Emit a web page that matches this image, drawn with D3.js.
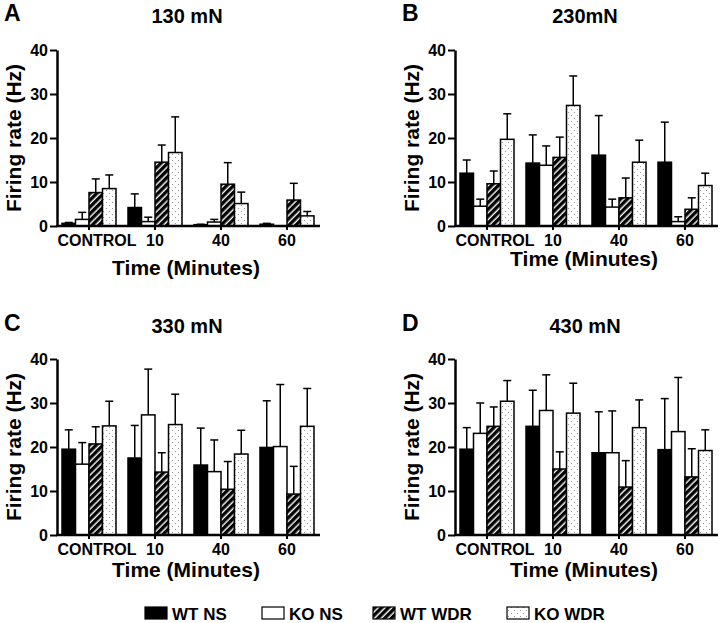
<!DOCTYPE html>
<html>
<head>
<meta charset="utf-8">
<script src="https://cdn.jsdelivr.net/npm/d3@7"></script>
<style>
  body { margin: 0; background: #fff; }
  svg { display: block; font-family: "Liberation Sans", Arial, sans-serif; font-weight: bold; }
</style>
</head>
<body>
<svg width="720" height="623"></svg>
<script>
// categories and series
var timepoints = ['CONTROL', '10', '40', '60'];
var groups = ['WT NS', 'KO NS', 'WT WDR', 'KO WDR'];
var yTicks = [0, 10, 20, 30, 40];

// mean firing rate (Hz), one row per group, one column per timepoint
var mean130 = [[0.6, 4.2, 0.3, 0.4], [1.5, 1.0, 0.9, 0], [7.6, 14.5, 9.5, 5.9], [8.5, 16.7, 5.1, 2.3]];
var sem130 = [[0.2, 3.1, 0.1, 0.2], [1.6, 1.0, 0.6, 0], [3.1, 3.9, 4.9, 3.8], [3.1, 8.1, 2.6, 1.0]];

var mean230 = [[12.0, 14.3, 16.1, 14.5], [4.5, 13.8, 4.3, 1.0], [9.6, 15.6, 6.4, 3.8], [19.7, 27.4, 14.5, 9.2]];
var sem230 = [[3.0, 6.4, 9.0, 9.1], [1.6, 4.4, 1.8, 1.1], [2.9, 4.6, 4.5, 2.6], [5.8, 6.7, 5.0, 2.8]];

var mean330 = [[19.5, 17.5, 15.9, 19.9], [16.1, 27.3, 14.4, 20.1], [20.7, 14.3, 10.4, 9.3], [24.8, 25.1, 18.4, 24.7]];
var sem330 = [[4.4, 7.4, 8.4, 10.6], [4.9, 10.4, 7.2, 14.1], [3.9, 4.4, 6.3, 6.3], [5.6, 6.9, 5.4, 8.6]];

var mean430 = [[19.5, 24.7, 18.7, 19.4], [23.1, 28.3, 18.7, 23.5], [24.7, 15.0, 10.9, 13.2], [30.4, 27.7, 24.4, 19.2]];
var sem430 = [[4.9, 8.2, 9.3, 11.6], [6.9, 8.1, 9.5, 12.3], [4.4, 3.9, 6.0, 6.4], [4.7, 6.8, 6.3, 4.7]];

var panels = [
  {letter: 'A', title: '130 mN', mean: mean130, sem: sem130, ax: 57, y0: 226, titleY: 23, xTitleY: 275},
  {letter: 'B', title: '230mN', mean: mean230, sem: sem230, ax: 455, y0: 226, titleY: 23, xTitleY: 266},
  {letter: 'C', title: '330 mN', mean: mean330, sem: sem330, ax: 57, y0: 535, titleY: 333, xTitleY: 577},
  {letter: 'D', title: '430 mN', mean: mean430, sem: sem430, ax: 455, y0: 535, titleY: 333, xTitleY: 577}
];

var fills = ['#000', '#fff', 'url(#hatch)', 'url(#dots)'];

var svg = d3.select('svg');
var defs = svg.append('defs');

var hatch = defs.append('pattern')
  .attr('id', 'hatch')
  .attr('patternUnits', 'userSpaceOnUse')
  .attr('width', 4.8)
  .attr('height', 4.8)
  .attr('patternTransform', 'rotate(45)');
hatch.append('rect').attr('width', 4.8).attr('height', 4.8).attr('fill', '#000');
hatch.append('line')
  .attr('x1', 1.2).attr('x2', 1.2)
  .attr('y1', 0).attr('y2', 4.8)
  .attr('stroke', '#fff')
  .attr('stroke-width', 1.4);

var dots = defs.append('pattern')
  .attr('id', 'dots')
  .attr('patternUnits', 'userSpaceOnUse')
  .attr('width', 6)
  .attr('height', 6);
dots.append('rect').attr('width', 6).attr('height', 6).attr('fill', '#fff');
dots.append('circle').attr('cx', 1.5).attr('cy', 1.5).attr('r', 0.6).attr('fill', '#888');
dots.append('circle').attr('cx', 4.5).attr('cy', 4.5).attr('r', 0.6).attr('fill', '#888');

panels.forEach(function(p) {
  var g = svg.append('g');
  var x0 = p.ax + 5;

  var x = d3.scaleBand()
    .domain(timepoints)
    .range([x0, x0 + 252])
    .paddingInner(12 / 66)
    .paddingOuter(0);
  var xs = d3.scaleBand()
    .domain(groups)
    .range([0, x.bandwidth()]);
  var y = d3.scaleLinear()
    .domain([0, 40])
    .range([p.y0, p.y0 - 176]);

  // bars
  groups.forEach(function(grp, gi) {
    var rows = timepoints.map(function(t, ti) {
      return {t: t, m: p.mean[gi][ti], s: p.sem[gi][ti]};
    });
    var bg = g.append('g');
    bg.selectAll('rect')
      .data(rows)
      .enter()
      .append('rect')
      .attr('x', function(d) { return x(d.t) + xs(grp); })
      .attr('y', function(d) { return y(d.m); })
      .attr('width', xs.bandwidth())
      .attr('height', function(d) { return y(0) - y(d.m); })
      .attr('fill', fills[gi])
      .attr('stroke', '#000')
      .attr('stroke-width', 1.5);

    var eb = bg.selectAll('g.err')
      .data(rows.filter(function(d) { return d.s > 0; }))
      .enter()
      .append('g')
      .attr('class', 'err')
      .attr('stroke', '#000')
      .attr('stroke-width', 1.5);
    eb.append('line')
      .attr('x1', function(d) { return x(d.t) + xs(grp) + xs.bandwidth() / 2; })
      .attr('x2', function(d) { return x(d.t) + xs(grp) + xs.bandwidth() / 2; })
      .attr('y1', function(d) { return y(d.m); })
      .attr('y2', function(d) { return y(d.m + d.s); });
    eb.append('line')
      .attr('x1', function(d) { return x(d.t) + xs(grp) + xs.bandwidth() / 2 - 4; })
      .attr('x2', function(d) { return x(d.t) + xs(grp) + xs.bandwidth() / 2 + 4; })
      .attr('y1', function(d) { return y(d.m + d.s); })
      .attr('y2', function(d) { return y(d.m + d.s); });
  });

  // y axis
  var ya = g.append('g')
    .attr('transform', 'translate(' + p.ax + ',0)')
    .call(d3.axisLeft(y).tickValues(yTicks).tickSize(7).tickSizeOuter(0).tickPadding(2));
  ya.select('.domain').attr('stroke-width', 2.5);
  ya.selectAll('.tick line').attr('stroke-width', 2);
  ya.selectAll('text').attr('font-size', 16).attr('fill', '#000');

  // x axis
  var xa = g.append('g')
    .attr('transform', 'translate(0,' + p.y0 + ')')
    .call(d3.axisBottom(x).tickSize(4).tickSizeOuter(0).tickPadding(5));
  xa.select('.domain').remove();
  xa.append('line')
    .attr('x1', p.ax - 1)
    .attr('x2', x0 + 258)
    .attr('stroke', '#000')
    .attr('stroke-width', 2.5);
  xa.selectAll('.tick line').attr('stroke-width', 2);
  xa.selectAll('text')
    .attr('font-size', 16)
    .attr('fill', '#000')
    .attr('dx', function(d) { return d === 'CONTROL' ? 8 : 0; });

  // labels
  g.append('text')
    .attr('transform', 'translate(' + (p.ax - 36) + ',' + (p.y0 - 88) + ') rotate(-90)')
    .attr('text-anchor', 'middle')
    .attr('font-size', 21)
    .text('Firing rate (Hz)');
  g.append('text')
    .attr('x', p.ax + 129)
    .attr('y', p.xTitleY)
    .attr('text-anchor', 'middle')
    .attr('font-size', 21)
    .text('Time (Minutes)');
  g.append('text')
    .attr('x', p.ax + 130)
    .attr('y', p.titleY)
    .attr('text-anchor', 'middle')
    .attr('font-size', 20)
    .text(p.title);
  g.append('text')
    .attr('x', p.ax - 53)
    .attr('y', p.titleY - 2)
    .attr('font-size', 23)
    .text(p.letter);
});

// legend
var legendX = [145, 262, 373, 507];
var lg = svg.append('g');
groups.forEach(function(grp, i) {
  lg.append('rect')
    .attr('x', legendX[i])
    .attr('y', 607)
    .attr('width', 22)
    .attr('height', 12)
    .attr('fill', fills[i])
    .attr('stroke', '#000')
    .attr('stroke-width', 1.2);
  lg.append('text')
    .attr('x', legendX[i] + 27)
    .attr('y', 620)
    .attr('font-size', 17)
    .text(grp);
});
</script>
</body>
</html>
